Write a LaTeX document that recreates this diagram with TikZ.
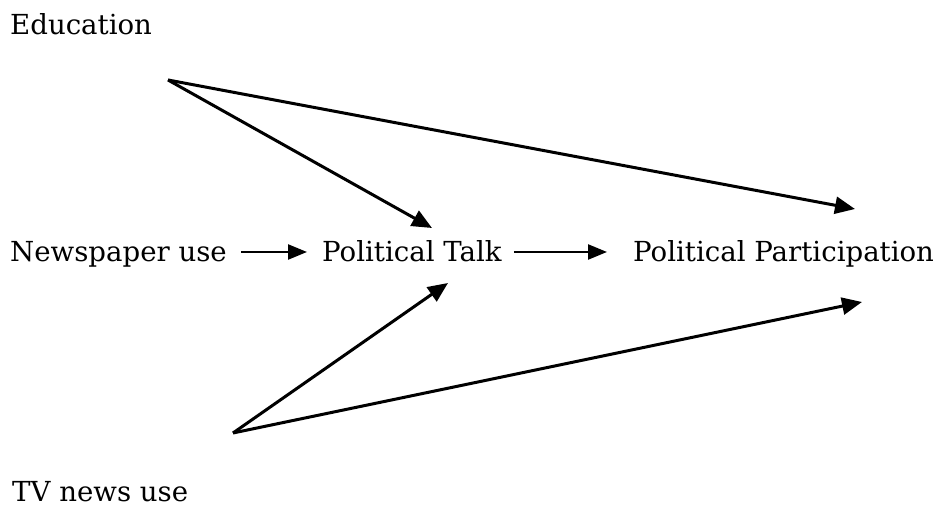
\documentclass[tikz,border=0pt]{standalone}
\usepackage{fontspec}
\setmainfont{DejaVu Serif}
\usetikzlibrary{arrows.meta,calc}
\begin{document}
\begin{tikzpicture}[x=1pt,y=1pt,
  lbl/.style={anchor=base west,inner sep=0pt,font=\fontsize{27.6}{32}\selectfont},
  conn/.style={line width=3pt,-{Triangle[length=20pt,width=17pt]}},
  hconn/.style={line width=2.4pt,-{Triangle[length=19pt,width=15pt]}}]
\useasboundingbox (0,0) rectangle (940,508);
\node[lbl] (edu) at (10,473) {Education};
\node[lbl] (news) at (10,246) {Newspaper use};
\node[lbl] (talk) at (322,246) {Political Talk};
\node[lbl] (part) at (633,246) {Political Participation};
\node[lbl] (tv) at (12,6) {TV news use};
\coordinate (edusrc) at (168,428);
\coordinate (tvsrc) at (233,75);
\coordinate (talkin1) at (432,280);
\coordinate (talkin2) at (448,225);
\coordinate (partin1) at (855,299);
\coordinate (partin2) at (862,206);
\draw[hconn] ($(news.base east)+(14,10)$) -- ($(talk.base west)+(-15,10)$);
\draw[hconn] ($(talk.base east)+(12,10)$) -- ($(part.base west)+(-26,10)$);
\draw[conn] (edusrc) -- (talkin1);
\draw[conn] (edusrc) -- (partin1);
\draw[conn] (tvsrc) -- (talkin2);
\draw[conn] (tvsrc) -- (partin2);
\end{tikzpicture}
\end{document}
